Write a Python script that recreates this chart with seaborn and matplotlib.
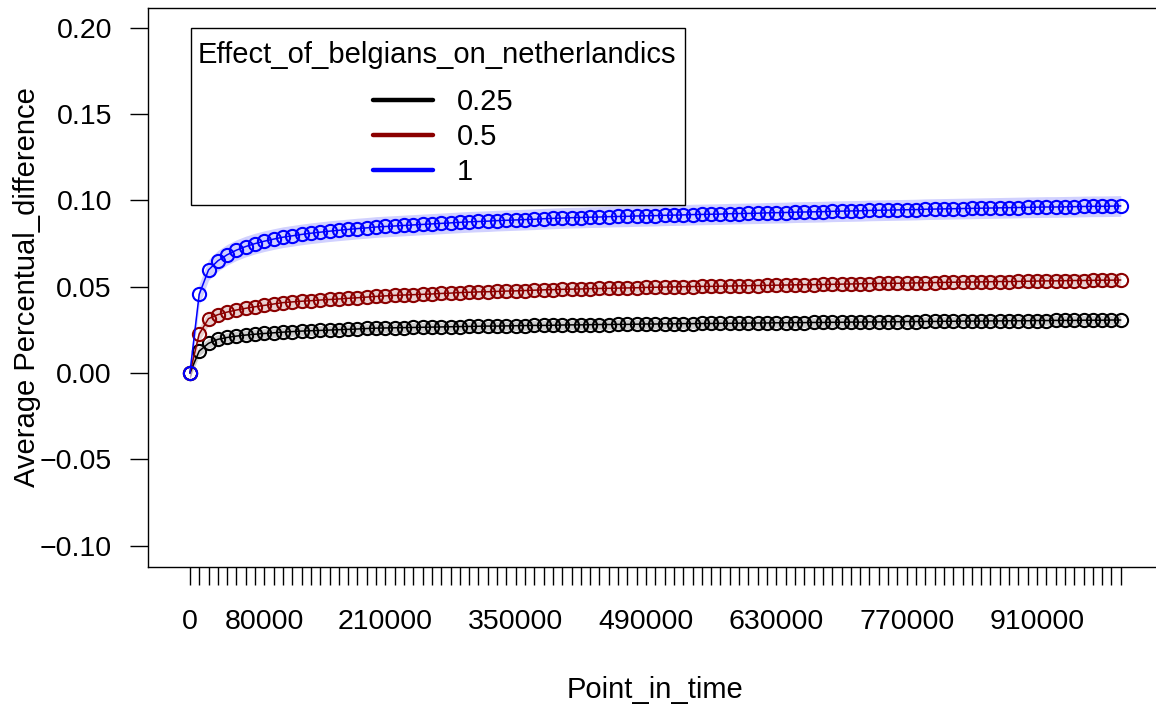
import numpy as np
import pandas as pd
import matplotlib
matplotlib.use("Agg")
import matplotlib.pyplot as plt
from matplotlib.lines import Line2D
from matplotlib.patches import Rectangle
import seaborn as sns

# ---------------- data ----------------
time_points = list(range(0, 1000001, 10000))

effect_levels = ["0.25", "0.5", "1"]
series_colors = ["#000000", "#8B0000", "#0000FF"]

vals_025 = [
    0.0000, 0.0127, 0.0172, 0.0195, 0.0206, 0.0214, 0.0220, 0.0225, 0.0229, 0.0233,
    0.0237, 0.0240, 0.0243, 0.0245, 0.0247, 0.0249, 0.0251, 0.0253, 0.0255, 0.0258,
    0.0260, 0.0261, 0.0262, 0.0263, 0.0264, 0.0265, 0.0266, 0.0267, 0.0268, 0.0269,
    0.0270, 0.0271, 0.0272, 0.0272, 0.0273, 0.0274, 0.0275, 0.0276, 0.0276, 0.0277,
    0.0278, 0.0279, 0.0279, 0.0280, 0.0281, 0.0281, 0.0282, 0.0282, 0.0283, 0.0284,
    0.0284, 0.0285, 0.0285, 0.0286, 0.0286, 0.0287, 0.0287, 0.0288, 0.0288, 0.0289,
    0.0289, 0.0290, 0.0290, 0.0291, 0.0291, 0.0292, 0.0292, 0.0293, 0.0293, 0.0294,
    0.0294, 0.0295, 0.0295, 0.0296, 0.0296, 0.0297, 0.0297, 0.0298, 0.0298, 0.0299,
    0.0299, 0.0300, 0.0300, 0.0301, 0.0301, 0.0301, 0.0302, 0.0302, 0.0303, 0.0303,
    0.0303, 0.0304, 0.0304, 0.0305, 0.0305, 0.0305, 0.0306, 0.0306, 0.0306, 0.0307,
    0.0307,
]

vals_05 = [
    0.0000, 0.0226, 0.0315, 0.0338, 0.0353, 0.0365, 0.0375, 0.0384, 0.0392, 0.0400,
    0.0408, 0.0412, 0.0416, 0.0419, 0.0423, 0.0426, 0.0429, 0.0433, 0.0436, 0.0440,
    0.0444, 0.0447, 0.0450, 0.0452, 0.0454, 0.0456, 0.0458, 0.0461, 0.0463, 0.0466,
    0.0468, 0.0470, 0.0471, 0.0473, 0.0475, 0.0476, 0.0478, 0.0480, 0.0482, 0.0483,
    0.0485, 0.0486, 0.0487, 0.0489, 0.0490, 0.0491, 0.0492, 0.0493, 0.0494, 0.0496,
    0.0497, 0.0498, 0.0499, 0.0500, 0.0501, 0.0502, 0.0502, 0.0503, 0.0504, 0.0505,
    0.0506, 0.0507, 0.0508, 0.0509, 0.0510, 0.0511, 0.0512, 0.0512, 0.0513, 0.0514,
    0.0515, 0.0516, 0.0517, 0.0518, 0.0519, 0.0520, 0.0520, 0.0521, 0.0522, 0.0523,
    0.0524, 0.0525, 0.0526, 0.0527, 0.0527, 0.0528, 0.0529, 0.0530, 0.0530, 0.0531,
    0.0532, 0.0533, 0.0534, 0.0534, 0.0535, 0.0536, 0.0536, 0.0537, 0.0538, 0.0538,
    0.0539,
]

vals_1 = [
    0.0000, 0.0456, 0.0597, 0.0650, 0.0685, 0.0712, 0.0733, 0.0750, 0.0764, 0.0776,
    0.0787, 0.0795, 0.0803, 0.0810, 0.0816, 0.0822, 0.0827, 0.0832, 0.0837, 0.0841,
    0.0846, 0.0849, 0.0852, 0.0855, 0.0858, 0.0861, 0.0864, 0.0867, 0.0870, 0.0873,
    0.0876, 0.0878, 0.0880, 0.0883, 0.0885, 0.0887, 0.0889, 0.0891, 0.0894, 0.0896,
    0.0898, 0.0900, 0.0901, 0.0903, 0.0904, 0.0906, 0.0907, 0.0908, 0.0910, 0.0911,
    0.0912, 0.0914, 0.0915, 0.0916, 0.0918, 0.0919, 0.0920, 0.0921, 0.0923, 0.0924,
    0.0925, 0.0926, 0.0928, 0.0929, 0.0930, 0.0932, 0.0933, 0.0934, 0.0935, 0.0937,
    0.0938, 0.0939, 0.0940, 0.0942, 0.0943, 0.0944, 0.0945, 0.0946, 0.0947, 0.0949,
    0.0950, 0.0951, 0.0952, 0.0953, 0.0954, 0.0955, 0.0956, 0.0957, 0.0958, 0.0959,
    0.0960, 0.0961, 0.0962, 0.0962, 0.0963, 0.0964, 0.0965, 0.0966, 0.0966, 0.0967,
    0.0968,
]

ci_halfwidth = [0.0028, 0.0040, 0.0060]

y_ticks = [-0.10, -0.05, 0.00, 0.05, 0.10, 0.15, 0.20]
x_labelled = [0, 80000, 210000, 350000, 490000, 630000, 770000, 910000]

legend_title = "Effect_of_belgians_on_netherlandics"
x_title = "Point_in_time"
y_title = "Average Percentual_difference"

# ---------------- style ----------------
sns.set_theme(style="white")
plt.rcParams["font.family"] = ["Liberation Sans", "DejaVu Sans"]
plt.rcParams["text.color"] = "black"
FS = 21
TFS = 20.5

df = pd.DataFrame({
    "Point_in_time": time_points * 3,
    "value": vals_025 + vals_05 + vals_1,
    "effect": sum([[lv] * len(time_points) for lv in effect_levels], []),
})

fig = plt.figure(figsize=(11.56, 7.11), dpi=100)
W, H = 1156, 711
ax = fig.add_axes([148 / W, 1 - 567 / H, (1158 - 148) / W, (567 - 8) / H])

for lv, col, hw in zip(effect_levels, series_colors, ci_halfwidth):
    sub = df[df["effect"] == lv]
    ax.fill_between(sub["Point_in_time"], sub["value"] - hw, sub["value"] + hw,
                    color=col, alpha=0.18, linewidth=0, zorder=1)
    sns.lineplot(data=sub, x="Point_in_time", y="value", ax=ax, color=col,
                 marker="o", markerfacecolor="none", markeredgecolor=col,
                 markeredgewidth=1.5, markersize=9.5, linewidth=1.1,
                 errorbar=None, legend=False, zorder=2)

ax.set_xlim(-45000, 1040000)
ax.set_ylim(-0.1124, 0.2115)

ax.set_xticks(time_points)
ax.set_xticklabels([str(t) if t in x_labelled else "" for t in time_points])
ax.set_yticks(y_ticks)
ax.set_yticklabels([f"{v:.2f}".replace("-", "\u2212") for v in y_ticks])

ax.tick_params(axis="both", which="major", direction="out", length=13, width=1,
               color="black", labelsize=TFS, labelcolor="black", pad=13,
               bottom=True, left=True)
ax.tick_params(axis="x", pad=17.5)

for side in ["left", "bottom", "top"]:
    ax.spines[side].set_visible(True)
    ax.spines[side].set_color("black")
    ax.spines[side].set_linewidth(1.0)
ax.spines["right"].set_visible(False)

ax.set_xlabel("")
ax.set_ylabel("")
fig.text(655 / W, 1 - 690 / H, x_title, ha="center", va="center", fontsize=FS, color="black")
fig.text(27 / W, 1 - 287 / H, y_title, ha="center", va="center", rotation=90,
         fontsize=FS, color="black")

# legend (frame + title + entries)
fig.patches.append(Rectangle((191 / W, 1 - 205 / H), (685 - 191) / W, (205 - 28) / H,
                             transform=fig.transFigure, facecolor="white",
                             edgecolor="black", linewidth=1.0, zorder=5))
fig.text(437 / W, 1 - 55 / H, legend_title, ha="center", va="center",
         fontsize=FS, color="black", zorder=6)
handles = [Line2D([0], [0], color=c, linewidth=3.2, solid_capstyle="round")
           for c in series_colors]
leg = fig.legend(handles, effect_levels, loc="upper left",
                 bbox_to_anchor=(373 / W, 1 - 88 / H), bbox_transform=fig.transFigure,
                 frameon=False, fontsize=FS, borderpad=0, borderaxespad=0,
                 handlelength=2.07, handletextpad=0.8, labelspacing=0.24,
                 labelcolor="black")
leg.set_zorder(7)

fig.savefig("out.png", dpi=100)
